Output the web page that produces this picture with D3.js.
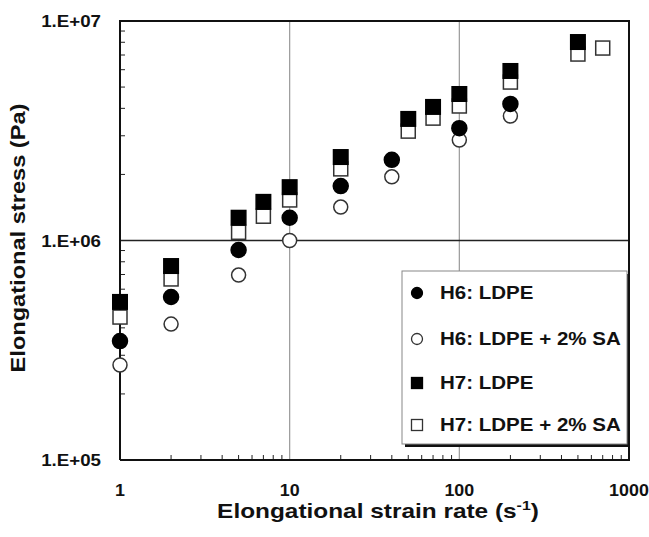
<!DOCTYPE html>
<html>
<head>
<meta charset="utf-8">
<script src="https://cdn.jsdelivr.net/npm/d3@7"></script>
<style>
  html, body { margin: 0; padding: 0; background: #fff; }
  svg { display: block; font-family: "Liberation Sans", Arial, sans-serif; font-weight: bold; }
</style>
</head>
<body>
<div id="chart"></div>
<script>
// strain rate (1/s) and stress (Pa)
var h6Rate = [1, 2, 5, 10, 20, 40, 100, 200];
var h6Ldpe = [3.48e5, 5.53e5, 9.05e5, 1.27e6, 1.77e6, 2.33e6, 3.25e6, 4.19e6];
var h6Sa = [2.71e5, 4.16e5, 6.96e5, 1.0e6, 1.42e6, 1.95e6, 2.87e6, 3.69e6];

var h7RateLdpe = [1, 2, 5, 7, 10, 20, 50, 70, 100, 200, 500];
var h7Ldpe = [5.25e5, 7.65e5, 1.27e6, 1.50e6, 1.75e6, 2.40e6, 3.58e6, 4.06e6, 4.65e6, 5.92e6, 8.02e6];
var h7RateSa = [1, 2, 5, 7, 10, 20, 50, 70, 100, 200, 500, 700];
var h7Sa = [4.48e5, 6.68e5, 1.09e6, 1.29e6, 1.53e6, 2.12e6, 3.15e6, 3.61e6, 4.10e6, 5.27e6, 7.07e6, 7.53e6];

var xTicks = [1, 10, 100, 1000];
var yTicks = [1e5, 1e6, 1e7];
var yTickLabels = ["1.E+05", "1.E+06", "1.E+07"];
var legendLabels = ["H6: LDPE", "H6: LDPE + 2% SA", "H7: LDPE", "H7: LDPE + 2% SA"];

var W = 649, H = 537;
var margin = {left: 120, right: 20, top: 21, bottom: 77};

var svg = d3.select("#chart").append("svg")
    .attr("width", W).attr("height", H);

var x = d3.scaleLog().domain([1, 1000]).range([margin.left, W - margin.right]);
var y = d3.scaleLog().domain([1e5, 1e7]).range([H - margin.bottom, margin.top]);

// the original lettering is a bit wider than Liberation Sans Bold
var stretch = function (sel, k) {
    sel.each(function () {
        var len = this.getComputedTextLength();
        d3.select(this).attr("textLength", len * k).attr("lengthAdjust", "spacingAndGlyphs");
    });
};

var minorX = [], minorY = [];
[1, 10, 100].forEach(function (d) {
    for (var k = 2; k <= 9; k++) minorX.push(d * k);
});
[1e5, 1e6].forEach(function (d) {
    for (var k = 2; k <= 9; k++) minorY.push(d * k);
});

// grid
svg.selectAll(".vgrid").data([10, 100]).enter().append("line")
    .attr("x1", function (d) { return x(d); }).attr("x2", function (d) { return x(d); })
    .attr("y1", y.range()[1]).attr("y2", y.range()[0])
    .attr("stroke", "#999").attr("stroke-width", 1.2);
svg.append("line")
    .attr("x1", x.range()[0]).attr("x2", x.range()[1])
    .attr("y1", y(1e6)).attr("y2", y(1e6))
    .attr("stroke", "#222").attr("stroke-width", 1.3);

// minor ticks, inward
svg.selectAll(".mx").data(minorX).enter().append("line")
    .attr("x1", function (d) { return x(d); }).attr("x2", function (d) { return x(d); })
    .attr("y1", y.range()[0]).attr("y2", y.range()[0] - 5)
    .attr("stroke", "#222").attr("stroke-width", 1);
svg.selectAll(".my").data(minorY).enter().append("line")
    .attr("x1", x.range()[0]).attr("x2", x.range()[0] + 5)
    .attr("y1", function (d) { return y(d); }).attr("y2", function (d) { return y(d); })
    .attr("stroke", "#222").attr("stroke-width", 1);

// frame
svg.append("path")
    .attr("d", "M" + x.range()[0] + "," + y.range()[0] + "V" + y.range()[1] + "H" + x.range()[1] + "V" + y.range()[0] + "H" + x.range()[0])
    .attr("fill", "none").attr("stroke", "#111").attr("stroke-width", 2);

// tick labels
svg.selectAll(".xl").data(xTicks).enter().append("text")
    .attr("x", function (d) { return x(d); }).attr("y", 496)
    .attr("text-anchor", "middle").attr("font-size", 17).attr("fill", "#111")
    .text(function (d) { return d; })
    .call(stretch, 1.05);
svg.selectAll(".yl").data(yTicks).enter().append("text")
    .attr("x", 101).attr("y", function (d) { return y(d) + 6; })
    .attr("text-anchor", "end").attr("font-size", 17).attr("fill", "#111")
    .text(function (d, i) { return yTickLabels[i]; })
    .call(stretch, 1.1);

// axis titles
var xt = svg.append("text")
    .attr("x", 378).attr("y", 518)
    .attr("text-anchor", "middle").attr("font-size", 20).attr("fill", "#111")
    .attr("transform", "translate(378,0) scale(1.22,1) translate(-378,0)");
xt.append("tspan").text("Elongational strain rate (s");
xt.append("tspan").attr("dy", -8).attr("font-size", 13).text("-1");
xt.append("tspan").attr("dy", 8).text(")");

svg.append("text")
    .attr("transform", "translate(25,238) rotate(-90)")
    .attr("text-anchor", "middle").attr("font-size", 20).attr("fill", "#111")
    .text("Elongational stress (Pa)")
    .call(stretch, 1.18);

// markers
var circle = function (g, rates, vals, filled, r) {
    g.selectAll(null).data(rates).enter().append("circle")
        .attr("cx", function (d) { return x(d); })
        .attr("cy", function (d, i) { return y(vals[i]); })
        .attr("r", r)
        .attr("fill", filled ? "#000" : "#fff")
        .attr("stroke", filled ? "#000" : "#333").attr("stroke-width", 1.5);
};
var square = function (g, rates, vals, filled, s) {
    g.selectAll(null).data(rates).enter().append("rect")
        .attr("x", function (d) { return x(d) - s / 2; })
        .attr("y", function (d, i) { return y(vals[i]) - s / 2; })
        .attr("width", s).attr("height", s)
        .attr("fill", filled ? "#000" : "#fff")
        .attr("stroke", filled ? "#000" : "#333").attr("stroke-width", 1.5);
};
var pts = svg.append("g");
circle(pts, h6Rate, h6Sa, false, 7);
circle(pts, h6Rate, h6Ldpe, true, 7.5);
square(pts, h7RateSa, h7Sa, false, 14);
square(pts, h7RateLdpe, h7Ldpe, true, 14.5);

// legend
var lg = svg.append("g").attr("transform", "translate(402,271)");
lg.append("rect").attr("x", 3).attr("y", 3).attr("width", 225).attr("height", 173).attr("fill", "#111");
lg.append("rect").attr("x", 0).attr("y", 0).attr("width", 225).attr("height", 173)
    .attr("fill", "#fff").attr("stroke", "#888").attr("stroke-width", 1);
var rowY = [22, 68, 112, 154];
legendLabels.forEach(function (lab, i) {
    var cy = rowY[i];
    if (i < 2) {
        lg.append("circle").attr("cx", 15).attr("cy", cy).attr("r", 5.5)
            .attr("fill", i === 0 ? "#000" : "#fff").attr("stroke", i === 0 ? "#000" : "#333").attr("stroke-width", 1.3);
    } else {
        lg.append("rect").attr("x", 9.5).attr("y", cy - 5.5).attr("width", 11).attr("height", 11)
            .attr("fill", i === 2 ? "#000" : "#fff").attr("stroke", i === 2 ? "#000" : "#333").attr("stroke-width", 1.3);
    }
    lg.append("text").attr("x", 38).attr("y", cy + 6)
        .attr("font-size", 18).attr("fill", "#111").text(lab)
        .call(stretch, 1.14);
});
</script>
</body>
</html>
